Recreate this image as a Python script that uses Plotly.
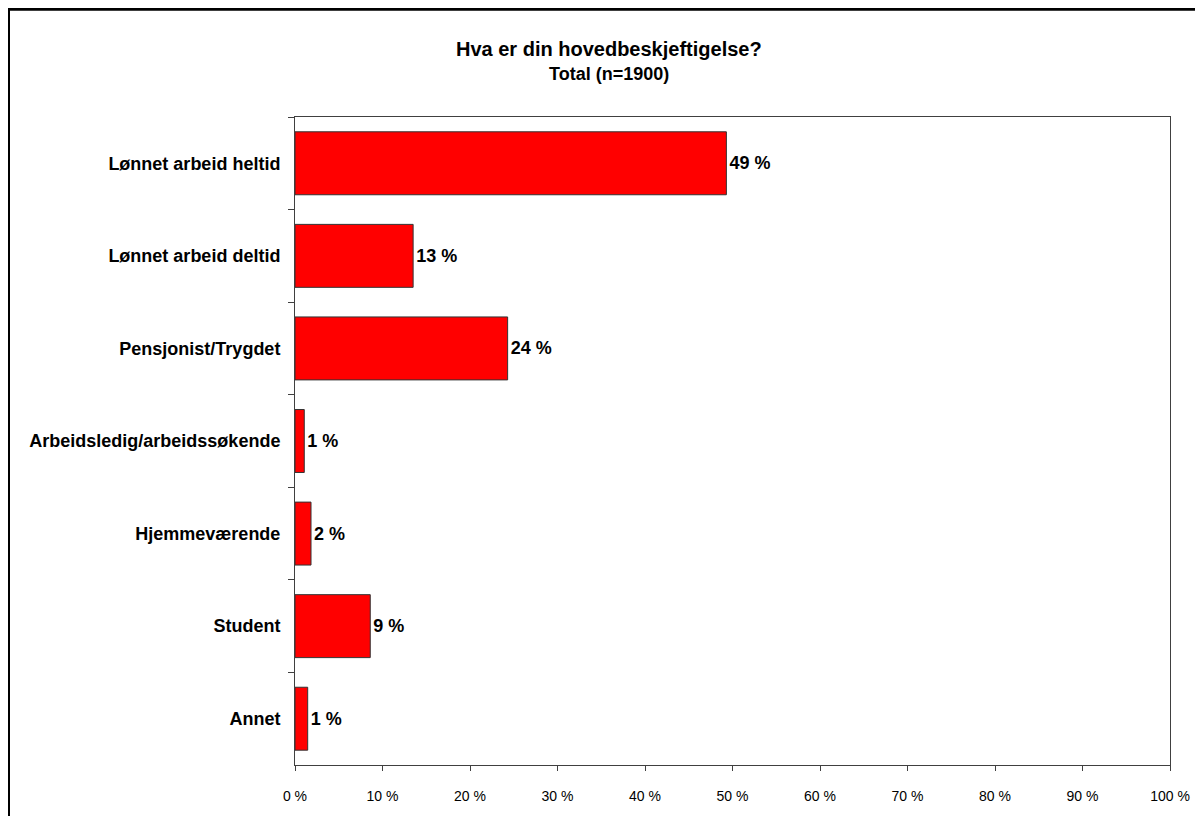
import plotly.graph_objects as go

categories = ["Lønnet arbeid heltid", "Lønnet arbeid deltid", "Pensjonist/Trygdet",
              "Arbeidsledig/arbeidssøkende", "Hjemmeværende", "Student", "Annet"]
values = [49.3, 13.5, 24.3, 1.06, 1.83, 8.6, 1.45]
labels = ["49 %", "13 %", "24 %", "1 %", "2 %", "9 %", "1 %"]
x_ticks = list(range(0, 101, 10))
x_ticktext = [f"{t} %" for t in x_ticks]

FONT = "Liberation Sans, Arial, sans-serif"

fig = go.Figure(go.Bar(
    y=categories, x=values, orientation="h",
    marker=dict(color="#FF0000", line=dict(color="#333333", width=1)),
    text=labels, textposition="outside",
    textfont=dict(family=FONT, size=18, color="black", weight="bold"),
    cliponaxis=False, width=0.68,
))

# page body has an 8px margin: figure starts at screen (8, 8)
OFF = 8
W, H = 1203 - OFF, 816 - OFF
L, R, T, B = 287, 33, 109, 46
pw, ph = W - L - R, H - T - B

def px_x(x_screen):
    return (x_screen - OFF - L) / pw

def px_y(y_screen):
    return (H - B - (y_screen - OFF)) / ph

fig.update_layout(
    width=W, height=H,
    margin=dict(l=L, r=R, t=T, b=B),
    paper_bgcolor="white", plot_bgcolor="white",
    showlegend=False,
    font=dict(family=FONT, color="black"),
    xaxis=dict(range=[0, 100], tickvals=x_ticks, ticktext=x_ticktext,
               showgrid=False, zeroline=False,
               showline=True, linecolor="#404040", linewidth=1, mirror=True,
               ticks="outside", ticklen=5, tickcolor="#404040",
               tickfont=dict(size=14, color="black"), ticklabelstandoff=13),
    yaxis=dict(autorange="reversed", showgrid=False, zeroline=False,
               showline=True, linecolor="#404040", linewidth=1, mirror=True,
               ticks="outside", ticklen=6, tickcolor="#404040", tickson="boundaries",
               tickfont=dict(size=18, color="black", weight="bold"), ticklabelstandoff=10),
    annotations=[
        dict(text="<b>Hva er din hovedbeskjeftigelse?</b>", xref="paper", yref="paper",
             x=px_x(609), y=px_y(48), xanchor="center", yanchor="middle",
             showarrow=False, font=dict(size=20, color="black")),
        dict(text="<b>Total (n=1900)</b>", xref="paper", yref="paper",
             x=px_x(609), y=px_y(74), xanchor="center", yanchor="middle",
             showarrow=False, font=dict(size=18, color="black")),
    ],
    shapes=[
        # outer chart border: top and left edges
        dict(type="line", xref="paper", yref="paper",
             x0=px_x(8), x1=px_x(1198), y0=px_y(8.5), y1=px_y(8.5),
             line=dict(color="black", width=3), layer="below"),
        dict(type="line", xref="paper", yref="paper",
             x0=px_x(8.5), x1=px_x(8.5), y0=px_y(8), y1=px_y(830),
             line=dict(color="black", width=3), layer="below"),
    ],
)

fig.write_html("out.html")
